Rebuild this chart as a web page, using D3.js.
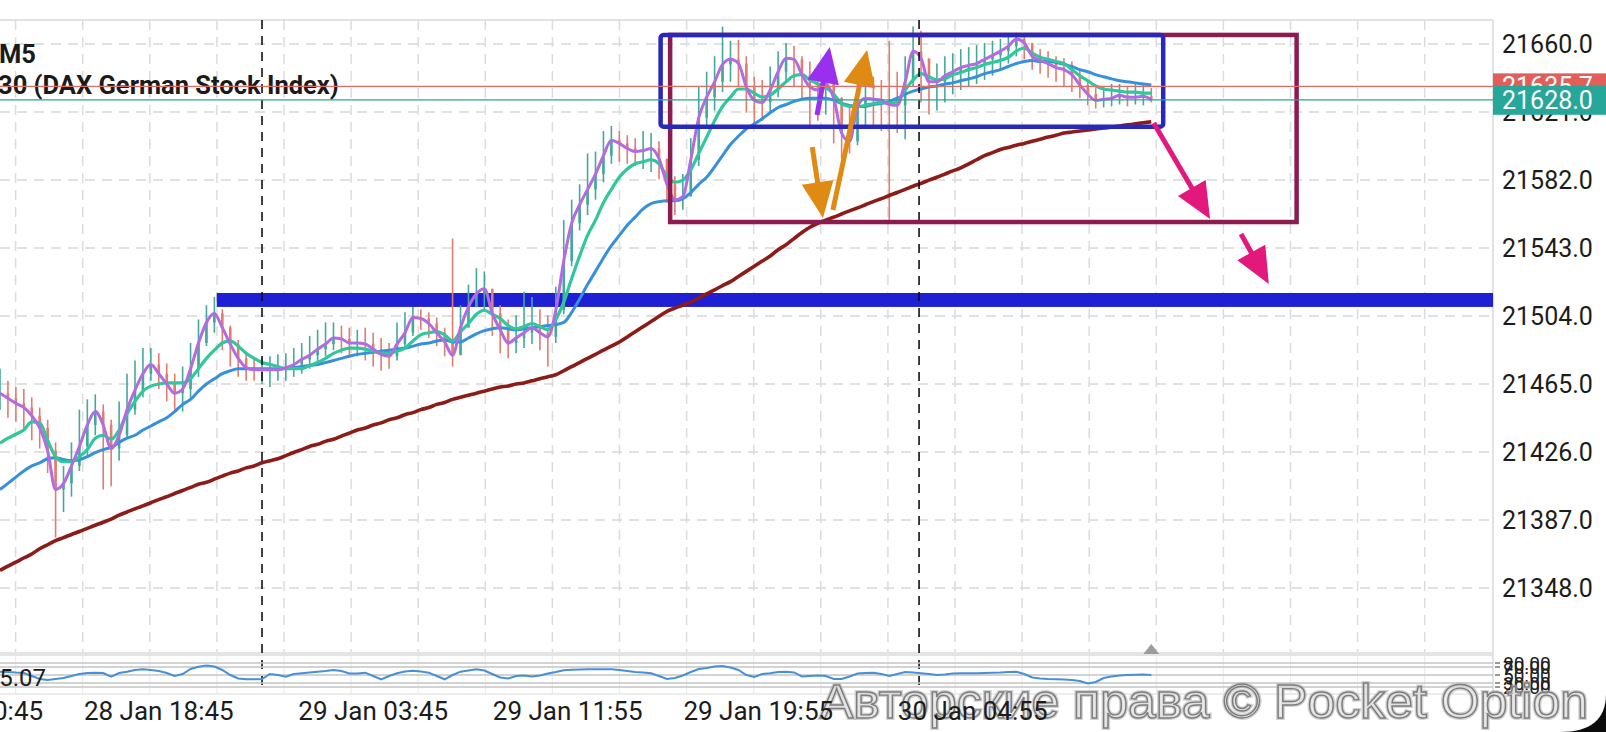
<!DOCTYPE html>
<html><head><meta charset="utf-8">
<script src="https://cdn.jsdelivr.net/npm/d3@7"></script>
<style>html,body{margin:0;padding:0;background:#fff;overflow:hidden}svg{display:block}</style>
</head><body>
<svg id="c" width="1606" height="732"></svg>
<script>
// ---------- DATA ----------
const symbolTitle = "30 (DAX German Stock Index)";
const timeframe = "M5";
const barStart = "2025-01-28T12:05:00";
const barMinutes = 20;
const closes = [21459.7,21456.8,21453.9,21451.5,21446.8,21439.8,21426.8,21404.5,21408.0,21418.0,
21429.2,21441.5,21449.2,21441.5,21428.0,21435.6,21450.3,21461.5,21470.9,21476.2,
21470.9,21465.0,21459.7,21462.1,21473.8,21488.5,21500.3,21505.5,21497.3,21487.9,
21479.7,21474.4,21473.2,21473.2,21473.2,21473.2,21474.4,21476.2,21479.1,21481.5,
21485.0,21487.9,21491.4,21490.9,21488.5,21488.5,21487.9,21485.0,21482.0,21480.9,
21487.9,21494.4,21503.2,21502.6,21499.7,21494.4,21489.1,21481.5,21497.3,21509.1,
21516.7,21519.6,21505.5,21496.1,21488.5,21491.4,21494.4,21497.3,21494.4,21492.0,
21507.3,21535.5,21557.2,21567.8,21576.6,21585.4,21596.0,21604.8,21603.0,21600.1,
21598.3,21598.9,21600.1,21594.2,21579.5,21570.7,21572.5,21593.6,21617.7,21629.5,
21638.3,21648.3,21651.2,21648.8,21635.3,21627.7,21626.5,21633.6,21644.1,21651.8,
21651.2,21642.4,21635.3,21633.6,21637.1,21628.9,21608.9,21604.2,21624.2,21628.9,
21628.3,21627.7,21625.3,21624.8,21638.3,21655.9,21651.8,21638.3,21638.3,21641.8,
21644.1,21646.5,21647.7,21648.8,21651.2,21653.5,21655.9,21658.8,21662.9,21660.6,
21653.0,21650.6,21648.8,21646.5,21645.3,21642.4,21636.5,21631.2,21627.7,21628.3,
21628.9,21630.6,21629.5,21629.5,21630.0,21628.0];
const highs = [21473.8,21466.8,21463.3,21462.1,21457.4,21451.5,21444.5,21431.5,21418.0,21431.5,
21450.3,21456.2,21459.1,21453.3,21444.5,21455.0,21470.9,21478.5,21485.6,21485.6,
21482.6,21476.8,21470.9,21475.0,21488.5,21502.0,21510.2,21514.9,21507.9,21498.5,
21490.3,21482.6,21479.7,21479.7,21480.9,21482.0,21482.6,21485.6,21488.5,21492.6,
21496.1,21500.3,21500.3,21498.5,21497.3,21496.1,21497.3,21494.4,21491.4,21488.5,
21500.3,21506.1,21509.1,21507.9,21506.1,21503.2,21497.3,21548.4,21510.2,21522.0,
21531.4,21529.6,21519.6,21510.2,21502.0,21504.4,21517.9,21514.9,21507.9,21504.4,
21520.8,21559.0,21570.7,21579.5,21597.2,21598.3,21610.1,21613.0,21610.1,21607.7,
21606.0,21610.1,21608.9,21604.2,21594.2,21584.2,21585.4,21606.0,21635.3,21644.1,
21653.0,21670.0,21661.8,21662.3,21653.0,21641.2,21639.4,21647.1,21655.9,21660.6,
21658.8,21653.0,21650.0,21644.1,21650.0,21641.2,21629.5,21623.6,21638.3,21644.1,
21641.2,21639.4,21661.8,21644.1,21653.0,21670.0,21667.6,21650.0,21648.8,21653.0,
21654.7,21657.1,21658.2,21659.4,21660.6,21661.8,21662.9,21664.1,21666.5,21665.3,
21660.6,21657.1,21655.9,21653.0,21651.8,21650.0,21645.3,21639.4,21634.7,21635.9,
21637.1,21637.1,21635.9,21637.1,21636.5,21634.7];
const lows = [21450.3,21445.6,21443.3,21438.6,21432.7,21428.0,21413.9,21376.9,21391.6,21400.4,
21415.1,21423.9,21435.6,21404.5,21406.3,21421.0,21433.9,21447.4,21457.4,21466.8,
21462.1,21455.0,21450.3,21449.2,21456.2,21469.1,21486.7,21494.4,21484.4,21475.0,
21469.1,21466.8,21466.8,21465.0,21463.3,21466.8,21466.8,21469.1,21470.9,21473.8,
21476.8,21480.9,21484.4,21482.6,21480.9,21480.9,21478.5,21475.0,21472.6,21473.8,
21478.5,21486.7,21492.6,21496.1,21491.4,21486.7,21480.9,21475.0,21482.6,21498.5,
21509.1,21507.9,21492.6,21482.6,21479.7,21482.6,21485.6,21487.9,21484.4,21475.0,
21488.5,21505.0,21532.6,21553.1,21561.9,21570.7,21580.7,21591.3,21592.5,21591.3,
21590.1,21588.3,21586.6,21582.5,21569.0,21561.9,21564.9,21573.7,21590.0,21611.8,
21621.8,21632.4,21638.3,21635.3,21620.6,21611.8,21616.0,21620.6,21629.5,21638.3,
21635.3,21627.7,21611.8,21616.0,21619.5,21603.0,21594.2,21597.2,21601.9,21611.8,
21613.6,21610.1,21557.2,21608.9,21605.4,21635.3,21626.5,21619.5,21621.8,21626.5,
21631.2,21633.6,21635.3,21637.1,21639.4,21641.8,21645.3,21648.8,21653.0,21651.2,
21645.3,21643.0,21640.6,21638.3,21635.9,21632.4,21628.9,21624.8,21623.0,21623.6,
21624.2,21625.3,21624.2,21625.3,21624.8,21626.5];
const maFast = [21431.0,21433.9,21436.2,21438.6,21443.3,21442.7,21432.7,21423.3,21420.4,21420.4,
21423.3,21427.4,21433.9,21435.6,21433.3,21438.6,21448.0,21455.0,21460.9,21463.8,
21465.0,21465.6,21465.6,21465.6,21468.0,21473.8,21479.7,21484.4,21488.5,21489.7,
21486.7,21482.6,21479.7,21477.3,21476.2,21475.0,21473.8,21473.8,21473.8,21475.6,
21477.3,21479.7,21482.6,21484.4,21485.6,21485.6,21485.0,21483.8,21482.6,21482.6,
21483.8,21485.6,21489.7,21493.2,21494.4,21495.0,21493.2,21489.7,21495.0,21499.7,
21505.0,21507.3,21505.0,21502.6,21498.5,21496.7,21497.9,21499.7,21497.9,21496.1,
21502.0,21512.0,21525.5,21538.4,21550.2,21559.0,21569.0,21576.6,21583.6,21588.3,
21591.3,21592.5,21593.6,21591.3,21584.2,21580.7,21581.9,21587.8,21597.2,21606.6,
21616.0,21624.2,21629.5,21634.2,21634.2,21631.8,21629.5,21630.6,21634.2,21638.3,
21641.8,21642.4,21639.4,21637.1,21635.3,21631.2,21625.9,21624.2,21624.2,21624.8,
21625.9,21626.5,21625.9,21627.1,21633.6,21639.4,21643.0,21641.2,21639.4,21640.0,
21642.4,21643.6,21645.3,21646.5,21648.3,21649.4,21650.6,21652.4,21655.9,21657.7,
21654.7,21652.4,21651.2,21650.0,21648.8,21645.3,21641.8,21638.9,21635.9,21634.2,
21633.6,21633.0,21632.4,21632.4,21631.8,21631.8];
const maMid = [21404.5,21408.0,21411.6,21415.1,21418.0,21419.8,21422.1,21422.7,21421.6,21421.0,
21421.6,21423.3,21425.7,21427.4,21428.6,21431.5,21433.9,21435.6,21438.6,21440.9,
21443.3,21445.6,21449.2,21453.3,21456.2,21460.9,21465.0,21468.0,21470.9,21472.6,
21473.8,21473.8,21473.8,21473.8,21473.8,21473.8,21473.8,21474.4,21475.0,21475.6,
21476.2,21477.3,21478.5,21479.7,21480.9,21482.0,21482.6,21483.2,21483.8,21484.4,
21485.0,21485.6,21486.7,21487.9,21488.5,21489.7,21490.3,21489.1,21489.1,21491.4,
21493.8,21495.6,21496.7,21497.3,21496.7,21496.1,21496.7,21497.3,21497.9,21498.5,
21499.1,21500.3,21506.1,21513.8,21522.0,21529.6,21537.3,21544.3,21550.2,21556.0,
21560.7,21565.4,21568.4,21569.6,21570.1,21570.1,21571.3,21574.8,21579.5,21583.6,
21589.5,21596.0,21602.4,21607.1,21611.3,21614.2,21617.1,21620.6,21623.6,21625.3,
21627.1,21628.3,21628.9,21628.9,21628.9,21627.7,21625.9,21624.8,21624.2,21624.2,
21625.3,21625.9,21627.1,21628.9,21631.2,21633.0,21634.2,21635.3,21635.9,21637.1,
21637.7,21638.9,21640.0,21641.2,21643.0,21644.1,21645.3,21647.1,21648.8,21650.0,
21650.6,21650.0,21650.0,21649.4,21648.3,21647.1,21645.3,21644.1,21642.4,21641.2,
21640.0,21638.9,21638.3,21637.7,21637.1,21636.5];
const maSlow = [21358.1,21360.5,21362.8,21365.2,21367.5,21370.5,21372.8,21375.2,21376.9,21378.7,
21380.4,21382.2,21384.0,21385.7,21387.5,21389.8,21391.6,21393.4,21395.1,21396.9,
21398.7,21400.4,21402.2,21403.9,21405.7,21407.5,21408.6,21410.4,21412.2,21413.9,
21415.1,21416.9,21418.0,21419.8,21421.0,21422.1,21423.9,21425.7,21427.4,21429.2,
21430.4,21432.1,21433.3,21435.1,21436.8,21438.6,21439.8,21441.5,21442.7,21444.5,
21445.6,21447.4,21448.6,21450.3,21451.5,21453.3,21454.4,21456.2,21457.4,21458.6,
21459.7,21460.9,21462.1,21463.3,21463.8,21465.0,21465.6,21466.8,21468.0,21469.1,
21470.3,21472.6,21475.0,21477.3,21479.7,21482.0,21484.4,21486.7,21489.1,21492.0,
21495.0,21497.9,21500.8,21503.8,21506.7,21508.5,21510.2,21512.0,21514.3,21516.7,
21519.0,21521.4,21523.7,21526.7,21529.6,21532.6,21535.5,21538.4,21542.0,21544.9,
21548.4,21551.9,21554.9,21557.2,21559.0,21560.7,21562.5,21564.3,21566.0,21567.8,
21569.6,21571.3,21573.1,21574.8,21576.6,21578.4,21580.1,21581.9,21583.6,21585.4,
21587.2,21588.9,21591.3,21593.6,21596.0,21597.7,21599.5,21600.7,21601.9,21603.0,
21604.2,21605.4,21606.6,21607.7,21608.9,21609.5,21610.1,21610.7,21611.3,21611.8,
21612.4,21613.0,21613.6,21614.2,21614.8,21615.4];
const oscillator = [58.3,57.5,56,55,47.5,40,37.5,40,42.5,47.5,
52.5,55,55.8,55,45.8,55,58.3,62.5,64.3,62.5,
60,55,47.5,52.5,65,70.8,73.8,71.3,62.5,50,
41.3,39.3,39.3,40,52.5,50,45.8,52.5,54.3,56.3,
58.3,60,62.5,60,53.8,53.8,55.8,47.5,38.8,47.5,
54.3,58.8,60.8,58.8,55.8,47.5,39.3,50,58.3,61.3,
64.3,61.3,52.5,43.8,41.3,47.5,48.8,46.3,48.8,53.8,
57.5,61.8,63,63.8,64.3,64.3,64.3,64.3,62.5,60,
57.5,56.3,54.3,47.5,40,42.5,48.8,57.5,65,67.5,
71.3,72.5,68.8,62.5,50,45,52.5,54.3,57.5,58.3,
56.3,46.3,47.5,48.8,47.5,40,40,46.3,53.8,55,
55.8,52.5,47.5,52.5,57.5,56.3,54.3,52.5,50,51.3,
53.8,54.3,54.3,54.3,55,55.8,56.3,57.5,58.3,52.5,
43.8,41.3,40,39.3,38.8,37.5,35,28.8,32.5,42.5,
46.3,48.8,50,50.8,51.3,50];
const oscillatorLabel = "45.07";
const priceTicks = [21660,21621,21582,21543,21504,21465,21426,21387,21348];
const timeTicks = ["2025-01-28T10:45:00","2025-01-28T18:45:00","2025-01-29T03:45:00","2025-01-29T11:55:00","2025-01-29T19:55:00","2025-01-30T04:55:00"];
const sessionSeparators = ["2025-01-28T23:05:00","2025-01-30T02:40:00"];
const oscLevels = [80,70,50,30,20];
const askPrice = 21635.7;
const bidPrice = 21628.0;
// drawn annotations, in bar-index / price coordinates
const supportZone = {fromIdx: 27.3, top: 21517.2, bottom: 21509.2};
const rangeBox = {x0: 83.2, x1: 146.5, top: 21665.2, bottom: 21612.6};
const targetBox = {x0: 84.4, x1: 163.3, top: 21665.2, bottom: 21557.9};
const arrowsData = [
  {name:"violet", fromIdx:102.9, fromVal:21619.3, toIdx:104.5, toVal:21658.3},
  {name:"orangeDown", fromIdx:102.3, fromVal:21600.9, toIdx:103.65, toVal:21560.2},
  {name:"orangeUp", fromIdx:104.9, fromVal:21564.8, toIdx:109.2, toVal:21656.6},
  {name:"pink1", fromIdx:145.3, fromVal:21614.7, toIdx:152.4, toVal:21559.6},
  {name:"pink2", fromIdx:156.3, fromVal:21551.0, toIdx:159.8, toVal:21522.4}
];
const watermark = "Авторские права © Pocket Option";

// ---------- LAYOUT / STYLE ----------
const plotRight = 1493, mainTop = 20, mainBottom = 653;
const arrowColors = {violet:"#9b2ff0", orangeDown:"#df8a12", orangeUp:"#df8a12", pink1:"#e2187c", pink2:"#e2187c"};
const svg = d3.select("#c");
const defs = svg.append("defs");
defs.append("clipPath").attr("id","clipMain").append("rect").attr("x",0).attr("y",mainTop).attr("width",plotRight).attr("height",mainBottom-mainTop);
defs.append("clipPath").attr("id","clipOsc").append("rect").attr("x",0).attr("y",656).attr("width",plotRight).attr("height",38);

const x = d3.scaleLinear().domain([0, closes.length-1]).range([0, 1151.3]);
const y = d3.scaleLinear().domain([21348, 21660]).range([588, 44]);
const yo = d3.scaleLinear().domain([20, 80]).range([687, 663]);
const t0 = new Date(barStart);
const idxOf = s => (new Date(s) - t0) / (barMinutes*60000);
const fmt = d3.timeFormat("%d %b %H:%M");

// frame
svg.append("line").attr("x1",0).attr("x2",plotRight).attr("y1",mainTop).attr("y2",mainTop).attr("stroke","#e2e2e2").attr("stroke-width",2);
svg.append("line").attr("x1",plotRight).attr("x2",plotRight).attr("y1",mainTop).attr("y2",700).attr("stroke","#e2e2e2").attr("stroke-width",2);

// grid
const grid = svg.append("g");
priceTicks.forEach(v => grid.append("line").attr("x1",0).attr("x2",plotRight).attr("y1",y(v)).attr("y2",y(v))
  .attr("stroke","#d8d8d8").attr("stroke-width",1.5).attr("stroke-dasharray","10,7"));
d3.range(15.6, plotRight-5, 67.1).forEach(px => grid.append("line").attr("x1",px).attr("x2",px).attr("y1",mainTop).attr("y2",mainBottom)
  .attr("stroke","#dcdcdc").attr("stroke-width",1.5).attr("stroke-dasharray","10,7"));
d3.range(15.6, plotRight-5, 67.1).forEach(px => grid.append("line").attr("x1",px).attr("x2",px).attr("y1",656).attr("y2",694)
  .attr("stroke","#ececec").attr("stroke-width",1.2));

// pane separators
svg.append("rect").attr("x",0).attr("y",652).attr("width",plotRight).attr("height",4).attr("fill","#e4e4e4");
svg.append("line").attr("x1",0).attr("x2",plotRight).attr("y1",694).attr("y2",694).attr("stroke","#ececec").attr("stroke-width",2);

const main = svg.append("g").attr("clip-path","url(#clipMain)");

// support zone
main.append("rect").attr("x",x(supportZone.fromIdx)).attr("y",y(supportZone.top))
  .attr("width",plotRight-x(supportZone.fromIdx)).attr("height",y(supportZone.bottom)-y(supportZone.top)).attr("fill","#1f1fd4");

// session separators
sessionSeparators.forEach(s => {
  const px = x(idxOf(s));
  svg.append("line").attr("x1",px).attr("x2",px).attr("y1",mainTop).attr("y2",692)
    .attr("stroke","#111").attr("stroke-width",1.6).attr("stroke-dasharray","9,7");
});

// candles
closes.forEach((c,i) => {
  const o = i ? closes[i-1] : c;
  const col = c >= o ? "#45a89c" : "#e27b70";
  main.append("line").attr("x1",x(i)).attr("x2",x(i)).attr("y1",y(highs[i])).attr("y2",y(lows[i]))
    .attr("stroke",col).attr("stroke-width",1.6);
  main.append("rect").attr("x",x(i)-1.3).attr("width",2.6).attr("y",y(Math.max(o,c)))
    .attr("height",Math.max(1,Math.abs(y(o)-y(c)))).attr("fill",col);
});

// moving averages
const lineGen = arr => d3.line().x((d,i)=>x(i)).y(d=>y(d)).curve(d3.curveMonotoneX)(arr);
main.append("path").attr("d",lineGen(maSlow)).attr("fill","none").attr("stroke","#8c1c18").attr("stroke-width",3.6);
main.append("path").attr("d",lineGen(maMid)).attr("fill","none").attr("stroke","#3690dc").attr("stroke-width",3);
main.append("path").attr("d",lineGen(maFast)).attr("fill","none").attr("stroke","#2fc79b").attr("stroke-width",3.2);
main.append("path").attr("d",lineGen(closes)).attr("fill","none").attr("stroke","#b36be2").attr("stroke-width",3);

// boxes
const ann = svg.append("g").attr("clip-path","url(#clipMain)");
ann.append("rect").attr("x",x(targetBox.x0)).attr("y",y(targetBox.top))
  .attr("width",x(targetBox.x1)-x(targetBox.x0)).attr("height",y(targetBox.bottom)-y(targetBox.top))
  .attr("fill","none").attr("stroke","#8c1b50").attr("stroke-width",4.5);
ann.append("rect").attr("x",x(rangeBox.x0)).attr("y",y(rangeBox.top))
  .attr("width",x(rangeBox.x1)-x(rangeBox.x0)).attr("height",y(rangeBox.bottom)-y(rangeBox.top))
  .attr("rx",3).attr("fill","none").attr("stroke","#2828bb").attr("stroke-width",4.5);

// arrows
arrowsData.forEach(a => {
  const col = arrowColors[a.name];
  const x1 = x(a.fromIdx), y1 = y(a.fromVal), x2 = x(a.toIdx), y2 = y(a.toVal);
  const dx = x2-x1, dy = y2-y1, L = Math.hypot(dx,dy), ux = dx/L, uy = dy/L;
  const hl = 36, hw = 16;
  const bx = x2-ux*hl, by = y2-uy*hl;
  ann.append("line").attr("x1",x1).attr("y1",y1).attr("x2",bx+ux*5).attr("y2",by+uy*5)
    .attr("stroke",col).attr("stroke-width",5);
  ann.append("path").attr("d",`M${x2},${y2}L${bx-uy*hw},${by+ux*hw}L${bx+uy*hw},${by-ux*hw}Z`).attr("fill",col);
});

// title
svg.append("text").attr("x",-1).attr("y",54).attr("dominant-baseline","central")
  .attr("font-family","Roboto, sans-serif").attr("font-weight",700).attr("font-size",25.5).attr("fill","#1a1a1a").text(timeframe);
svg.append("text").attr("x",-2).attr("y",85).attr("dominant-baseline","central")
  .attr("font-family","Roboto, sans-serif").attr("font-weight",700).attr("font-size",25.5).attr("fill","#1a1a1a").text(symbolTitle);

// price lines
svg.append("line").attr("x1",0).attr("x2",plotRight).attr("y1",y(askPrice)).attr("y2",y(askPrice)).attr("stroke","#e36d66").attr("stroke-width",1.3);
svg.append("line").attr("x1",0).attr("x2",plotRight).attr("y1",y(bidPrice)).attr("y2",y(bidPrice)).attr("stroke","#2aa497").attr("stroke-width",1.3);

// y axis labels
priceTicks.forEach(v => svg.append("text").attr("x",1502).attr("y",y(v)).attr("dominant-baseline","central")
  .attr("font-family","Roboto, sans-serif").attr("font-size",25).attr("fill","#1c1c1c").text(v.toFixed(1)));

// price tags
svg.append("rect").attr("x",plotRight).attr("y",y(askPrice)-13).attr("width",1606-plotRight).attr("height",26).attr("fill","#e25e5a");
svg.append("text").attr("x",1502).attr("y",y(askPrice)).attr("dominant-baseline","central")
  .attr("font-family","Roboto, sans-serif").attr("font-size",25).attr("fill","#fff").text(askPrice.toFixed(1));
svg.append("rect").attr("x",plotRight).attr("y",y(bidPrice)-14).attr("width",1606-plotRight).attr("height",29).attr("fill","#27a69a");
svg.append("text").attr("x",1502).attr("y",y(bidPrice)+1).attr("dominant-baseline","central")
  .attr("font-family","Roboto, sans-serif").attr("font-size",25).attr("fill","#fff").text(bidPrice.toFixed(1));

// oscillator pane
oscLevels.forEach(l => svg.append("line").attr("x1",0).attr("x2",plotRight).attr("y1",yo(l)).attr("y2",yo(l))
  .attr("stroke","#c4c4c4").attr("stroke-width",1.5));
const oscLine = d3.line().x((d,i)=>x(i)).y(d=>yo(d));
svg.append("path").attr("clip-path","url(#clipOsc)").attr("d",oscLine(oscillator)).attr("fill","none").attr("stroke","#4790d8").attr("stroke-width",2);
svg.append("text").attr("x",46).attr("y",678).attr("text-anchor","end").attr("dominant-baseline","central")
  .attr("font-family","Roboto, sans-serif").attr("font-size",24).attr("fill","#1c1c1c").text(oscillatorLabel);
oscLevels.forEach(l => {
  svg.append("line").attr("x1",1495).attr("x2",1500).attr("y1",yo(l)).attr("y2",yo(l)).attr("stroke","#333").attr("stroke-width",1);
  svg.append("text").attr("x",1503).attr("y",yo(l)).attr("dominant-baseline","central")
    .attr("font-family","Roboto, sans-serif").attr("font-size",19).attr("fill","#1c1c1c").text(l.toFixed(2));
});
// last-bar marker
const mx = x(closes.length-1);
svg.append("path").attr("d",`M${mx},644L${mx+8},654L${mx-8},654Z`).attr("fill","#9c9c9c");

// watermark
svg.append("text").attr("x",820).attr("y",718).attr("font-family","Liberation Sans, Arial, sans-serif").attr("font-size",48)
  .attr("textLength",768).attr("lengthAdjust","spacingAndGlyphs")
  .attr("fill","none").attr("stroke","rgba(180,180,180,0.6)").attr("stroke-width",4).text(watermark);
svg.append("text").attr("x",820).attr("y",718).attr("font-family","Liberation Sans, Arial, sans-serif").attr("font-size",48)
  .attr("textLength",768).attr("lengthAdjust","spacingAndGlyphs")
  .attr("fill","rgba(255,255,255,0.35)").attr("stroke","#7d7d7d").attr("stroke-width",1.4).text(watermark);

// x axis labels (drawn above the watermark, as in the reference)
timeTicks.forEach(t => svg.append("text").attr("x",x(idxOf(t))).attr("y",711).attr("text-anchor","middle").attr("dominant-baseline","central")
  .attr("font-family","Roboto, sans-serif").attr("font-size",26).attr("fill","#1c1c1c").text(fmt(new Date(t))));

// screen corner
svg.append("path").attr("d","M1560,732Q1606,732 1606,694L1606,732Z").attr("fill","#0c0c0c");
</script>
</body></html>
